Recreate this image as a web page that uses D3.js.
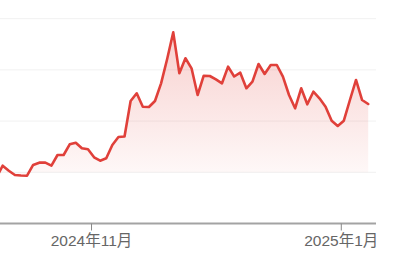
<!DOCTYPE html>
<html><head><meta charset="utf-8">
<script src="https://cdn.jsdelivr.net/npm/d3@7"></script>
<style>html,body{margin:0;padding:0;background:#fff;overflow:hidden}</style>
</head><body><svg id="c" width="414" height="262"></svg>
<script>
const dates = ["2024-10-10","2024-10-11","2024-10-14","2024-10-15","2024-10-16","2024-10-17","2024-10-18","2024-10-21","2024-10-22","2024-10-23","2024-10-24","2024-10-25","2024-10-28","2024-10-29","2024-10-30","2024-10-31",
"2024-11-01","2024-11-04","2024-11-05","2024-11-06","2024-11-07","2024-11-08","2024-11-11","2024-11-12","2024-11-13","2024-11-14","2024-11-15","2024-11-18","2024-11-19","2024-11-20","2024-11-21","2024-11-22","2024-11-25","2024-11-26","2024-11-27","2024-11-29",
"2024-12-02","2024-12-03","2024-12-04","2024-12-05","2024-12-06","2024-12-09","2024-12-10","2024-12-11","2024-12-12","2024-12-13","2024-12-16","2024-12-17","2024-12-18","2024-12-19","2024-12-20","2024-12-23","2024-12-24","2024-12-26","2024-12-27","2024-12-30","2024-12-31",
"2025-01-02","2025-01-03","2025-01-06","2025-01-07","2025-01-08"];
const values = [9.08,11.29,10.31,9.47,9.38,9.34,11.43,11.88,11.88,11.29,13.38,13.38,15.47,15.78,14.69,14.49,
12.93,12.27,12.73,15.33,16.89,16.99,23.93,25.43,22.81,22.75,23.93,27.38,32.13,37.34,29.34,32.27,30.31,25.10,28.87,28.81,
28.16,27.38,30.63,28.71,29.45,26.41,27.70,31.15,29.20,30.96,30.96,28.67,25.10,22.50,26.41,23.28,25.74,24.45,22.81,20.08,19.04,
20.08,24.12,28.03,24.12,23.34];
const gridValues = [10,20,30,40];
const tickDates = ["2024-11-01","2025-01-02"];
const tickLabels = ["2024年11月","2025年1月"];

const svg = d3.select("#c");
const plotLeft = 0, plotRight = 376;
const x = d3.scaleLinear().domain([0, dates.length-1]).range([-3.4, 368.2]);
const y = d3.scaleLinear().domain([0, 40]).range([223.5, 18.7]);

const defs = svg.append("defs");
const grad = defs.append("linearGradient").attr("id","g").attr("x1",0).attr("y1",0).attr("x2",0).attr("y2",1);
grad.append("stop").attr("offset","0%").attr("stop-color","#e23b34").attr("stop-opacity",0.24);
grad.append("stop").attr("offset","100%").attr("stop-color","#e23b34").attr("stop-opacity",0.03);
defs.append("clipPath").attr("id","clip").append("rect").attr("x",plotLeft).attr("y",0).attr("width",plotRight-plotLeft).attr("height",262);

svg.append("g").selectAll("line").data(gridValues).join("line")
  .attr("x1",plotLeft).attr("x2",plotRight)
  .attr("y1",d=>y(d)).attr("y2",d=>y(d))
  .attr("stroke","#f1f1f1").attr("stroke-width",1);

const g = svg.append("g").attr("clip-path","url(#clip)");
const idx = d3.range(values.length);
g.append("path").datum(idx)
  .attr("d", d3.area().x(i=>x(i)).y0(y(10)).y1(i=>y(values[i])))
  .attr("fill","url(#g)");
g.append("path").datum(idx)
  .attr("d", d3.line().x(i=>x(i)).y(i=>y(values[i])))
  .attr("fill","none").attr("stroke","#e0403a").attr("stroke-width",2.6)
  .attr("stroke-linejoin","round").attr("stroke-linecap","round");

// axis baseline
svg.append("line").attr("x1",plotLeft).attr("x2",plotRight).attr("y1",y(0)).attr("y2",y(0))
  .attr("stroke","#a3a3a3").attr("stroke-width",2);

const tickPos = tickDates.map(d => dates.indexOf(d) - 0.5);
const axis = d3.axisBottom(x).tickValues(tickPos)
  .tickFormat((d,i)=>tickLabels[i]).tickSize(7).tickPadding(4);
const ax = svg.append("g").attr("transform",`translate(0,${y(0)})`).call(axis);
ax.select(".domain").remove();
ax.selectAll(".tick line").attr("stroke","#888").attr("stroke-width",1);
ax.selectAll(".tick text").attr("fill","#666").attr("font-size",15.5)
  .attr("font-family","'Liberation Sans','Noto Sans CJK SC',sans-serif");
</script></body></html>
